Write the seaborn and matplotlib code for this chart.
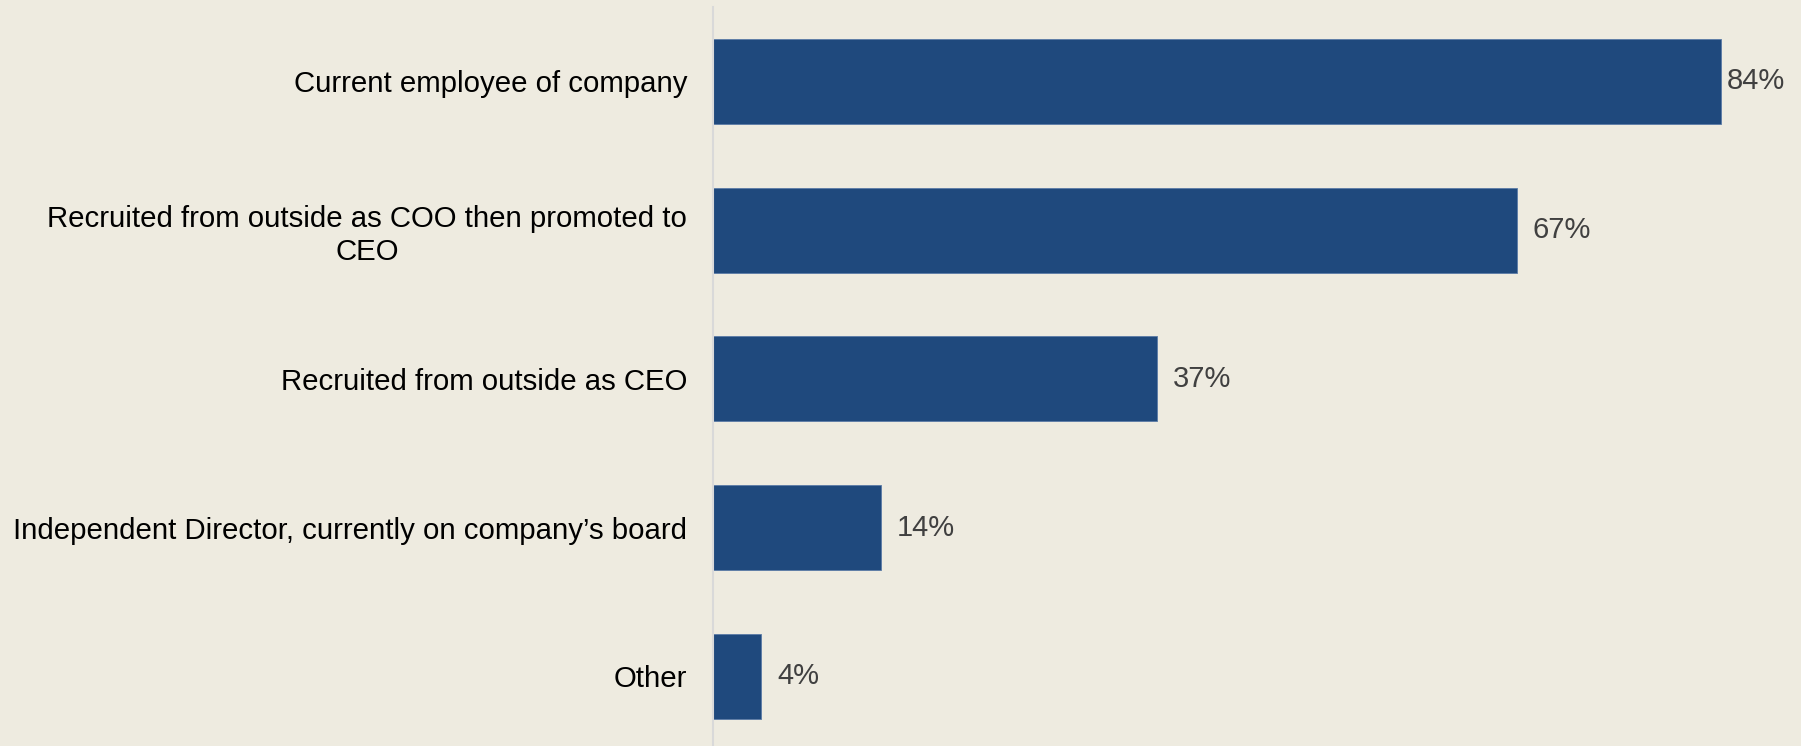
import matplotlib
matplotlib.use("Agg")
import matplotlib.pyplot as plt
import seaborn as sns
import pandas as pd

categories = [
    "Current employee of company",
    "Recruited from outside as COO then promoted to\nCEO",
    "Recruited from outside as CEO",
    "Independent Director, currently on company\u2019s board",
    "Other",
]
values = [84, 67, 37, 14, 4]
value_labels = ["84%", "67%", "37%", "14%", "4%"]

BG = "#EEEBE0"
BAR = "#1F497D"

sns.set_theme(style="white")
plt.rcParams["font.family"] = ["Liberation Sans", "DejaVu Sans"]

df = pd.DataFrame({"category": categories, "value": values})

W, H = 1801, 746
fig = plt.figure(figsize=(W / 100, H / 100), dpi=100, facecolor=BG)
ax = fig.add_axes([713 / W, 0, (W - 713) / W, (H - 7) / H])
ax.set_facecolor(BG)

sns.barplot(data=df, x="value", y="category", orient="h", color=BAR,
            width=0.571, saturation=1, ax=ax, edgecolor="#5A7BA6", linewidth=0.6)

ax.set_xlim(0, (W - 713) / 12)
ax.set_ylim(-0.5 + (H - 7) / 148.75, -0.5)

# value labels just past each bar end
for i, (v, lab) in enumerate(zip(values, value_labels)):
    off = 6 if i == 0 else 16
    ax.annotate(lab, xy=(v, i), xytext=(off * 0.72, 0), textcoords="offset points",
                ha="left", va="center", fontsize=21, color="#404040")

ax.set_xlabel("")
ax.set_ylabel("")
ax.set_xticks([])
ax.tick_params(axis="y", length=0, pad=18.7, labelsize=21.2, labelcolor="black")
for lbl in ax.get_yticklabels():
    lbl.set_multialignment("center")
    lbl.set_linespacing(1.2)

for side in ["top", "right", "bottom"]:
    ax.spines[side].set_visible(False)
ax.spines["left"].set_color("#D9D9D9")
ax.spines["left"].set_linewidth(1.5)

fig.savefig("out.png", dpi=100, facecolor=BG)
